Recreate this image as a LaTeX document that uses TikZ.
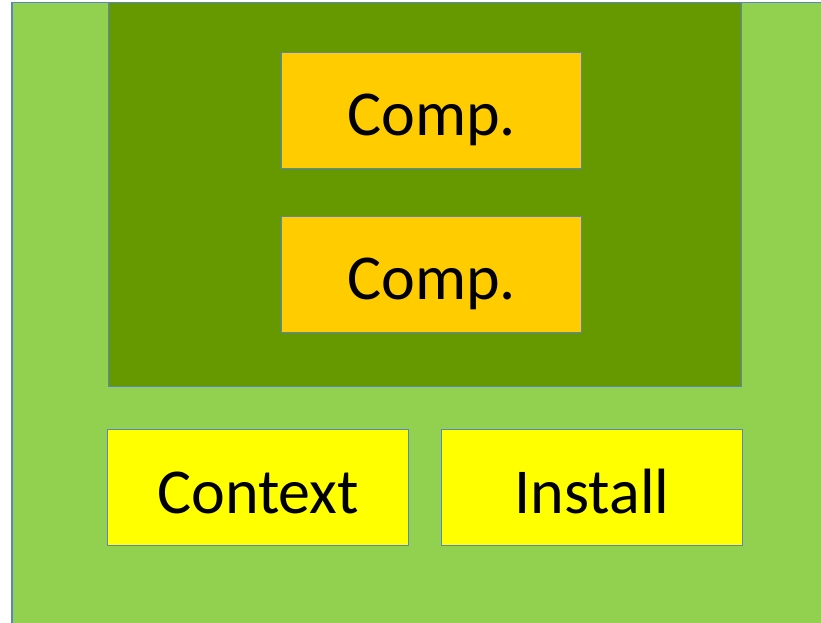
\documentclass[tikz,border=0pt]{standalone}
\usepackage{fontspec}
\setmainfont{Carlito}
\usetikzlibrary{positioning}

\definecolor{LightGreen}{HTML}{92D050}
\definecolor{DarkGreen}{HTML}{669900}
\definecolor{CompOrange}{HTML}{FFCC00}
\definecolor{BoxYellow}{HTML}{FFFF00}
\definecolor{EdgeBlue}{HTML}{5B85C2}

\tikzset{
Outer/.style={draw=EdgeBlue, fill=LightGreen, rectangle, inner
        sep=0pt, minimum width=830pt, minimum height=640pt, line width=1.5pt},
Pack/.style={draw=EdgeBlue, fill=DarkGreen, rectangle, inner
        sep=0pt, minimum width=633pt, minimum height=384pt, line width=1.2pt},
Comp/.style={draw=EdgeBlue, fill=CompOrange, rectangle, inner
        sep=0pt, minimum width=300pt, text height=83pt, text depth=33pt, line width=1.2pt,
        font=\fontsize{64}{72}\selectfont},
Part/.style={draw=EdgeBlue, fill=BoxYellow, rectangle, inner
        sep=0pt, minimum width=301pt, text height=84pt, text depth=32pt, line width=1.2pt,
        font=\fontsize{64}{72}\selectfont},
}

\begin{document}
\begin{tikzpicture}[x=1pt,y=-1pt]
	\useasboundingbox (0,0) rectangle (821,623);
	\node[Outer,anchor=north west] (Base) at (11,2) {};
	\node[Pack,anchor=north west] (Pkg) at (108,2) {};
	\foreach \y/\top in {1/52,2/216}
		\node[Comp,anchor=north west] (C\y) at (281,\top) {Comp.};
	\node[Part,anchor=north west] (Ctx) at (107,429) {Context};
	\node[Part,anchor=north west] (Inst) at (441,429) {Install};
\end{tikzpicture}
\end{document}
